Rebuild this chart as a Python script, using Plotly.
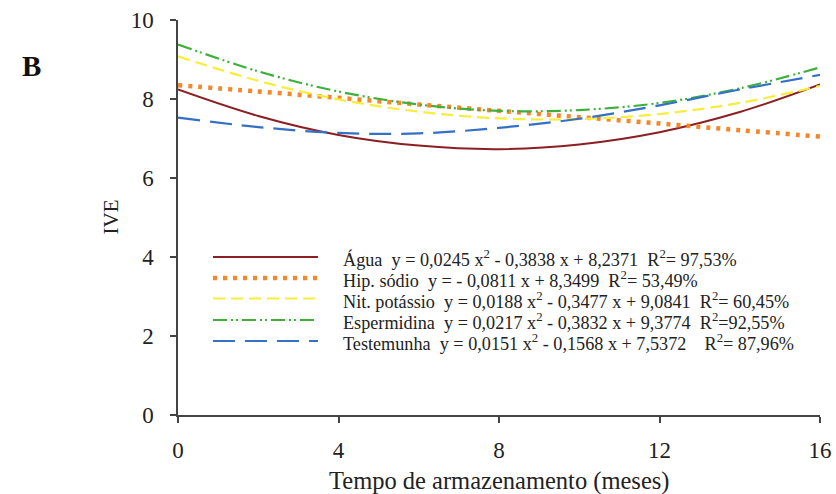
import plotly.graph_objects as go

# Storage time (months) at which each fitted curve is sampled
meses = [0, 2, 4, 6, 8, 10, 12, 14, 16]

# IVE values along each fitted curve
agua = [8.24, 7.57, 7.09, 6.82, 6.73, 6.85, 7.16, 7.67, 8.37]
hip_sodio = [8.35, 8.19, 8.03, 7.86, 7.70, 7.54, 7.38, 7.21, 7.05]
nit_potassio = [9.08, 8.46, 7.99, 7.68, 7.51, 7.49, 7.62, 7.90, 8.33]
espermidina = [9.38, 8.70, 8.19, 7.86, 7.70, 7.72, 7.90, 8.27, 8.80]
testemunha = [7.53, 7.29, 7.14, 7.13, 7.27, 7.50, 7.84, 8.24, 8.61]

series_names = ["Água", "Hip. sódio", "Nit. potássio", "Espermidina", "Testemunha"]
equations = [
    "y = 0,0245 x<sup>2</sup> - 0,3838 x + 8,2371\u00a0\u00a0R<sup>2</sup>= 97,53%",
    "y = - 0,0811 x + 8,3499\u00a0\u00a0R<sup>2</sup>= 53,49%",
    "y = 0,0188 x<sup>2</sup> - 0,3477 x + 9,0841\u00a0\u00a0R<sup>2</sup>= 60,45%",
    "y = 0,0217 x<sup>2</sup> - 0,3832 x + 9,3774\u00a0\u00a0R<sup>2</sup>=92,55%",
    "y = 0,0151 x<sup>2</sup> - 0,1568 x + 7,5372\u00a0\u00a0\u00a0\u00a0R<sup>2</sup>= 87,96%",
]

x_ticks = [0, 4, 8, 12, 16]
y_ticks = [0, 2, 4, 6, 8, 10]

values = [agua, hip_sodio, nit_potassio, espermidina, testemunha]
styles = [
    dict(color="#8B1F24", width=2, dash="solid"),
    dict(color="#F2872B", width=4.5, dash="4px,6px"),
    dict(color="#F7EE3A", width=2.2, dash="12px,6px"),
    dict(color="#3DB03A", width=2.2, dash="14px,4px,2px,3px,2px,4px"),
    dict(color="#3470C6", width=2.2, dash="22px,10px"),
]

SERIF = "Times New Roman, Liberation Serif, serif"

fig = go.Figure()
for name, ys, st in zip(series_names, values, styles):
    fig.add_trace(go.Scatter(
        x=meses, y=ys, mode="lines", name=name,
        line=dict(color=st["color"], width=st["width"], dash=st["dash"],
                  shape="spline", smoothing=1.0),
        showlegend=False, hoverinfo="skip", cliponaxis=False,
    ))

# Hand-built legend: long line samples followed by the regression equations
W, H, L, T = 836, 494, 178, 20
PW, PH = 642, 395
row_px = [257, 278, 298.5, 320, 341]
shapes = []
annotations = []
for name, eq, st, ry in zip(series_names, equations, styles, row_px):
    yp = ((T + PH) - ry) / PH
    shapes.append(dict(
        type="line", xref="paper", yref="paper",
        x0=(213 - L) / PW, x1=(318 - L) / PW, y0=yp, y1=yp,
        line=dict(color=st["color"], width=st["width"], dash=st["dash"]),
    ))
    annotations.append(dict(
        xref="paper", yref="paper", x=(341 - L) / PW, y=yp - 1.5 / PH,
        xanchor="left", yanchor="middle", showarrow=False,
        text=name + "\u00a0\u00a0" + eq,
        font=dict(family=SERIF, size=18.2, color="#222"),
    ))

# Axis titles and panel letter
annotations.append(dict(
    xref="paper", yref="paper", x=(499 - L) / PW, y=(T + PH - 481) / PH,
    xanchor="center", yanchor="middle", showarrow=False,
    text="Tempo de armazenamento (meses)",
    font=dict(family=SERIF, size=24.5, color="#222"),
))
annotations.append(dict(
    xref="paper", yref="paper", x=(110 - L) / PW, y=0.5,
    xanchor="center", yanchor="middle", showarrow=False, textangle=-90,
    text="IVE", font=dict(family=SERIF, size=21, color="#222"),
))
annotations.append(dict(
    xref="paper", yref="paper", x=(31 - L) / PW, y=(T + PH - 66) / PH,
    xanchor="center", yanchor="middle", showarrow=False,
    text="<b>B</b>", font=dict(family=SERIF, size=29, color="#111"),
))

axis_common = dict(
    showgrid=False, zeroline=False, showline=True, linecolor="#444",
    linewidth=1.5, ticks="outside", tickcolor="#444", tickwidth=1.5,
    ticklen=6, automargin=False,
    tickfont=dict(family=SERIF, size=23, color="#222"),
)

fig.update_layout(
    width=W, height=H,
    margin=dict(l=L, r=W - L - PW, t=T, b=H - T - PH, autoexpand=False),
    paper_bgcolor="white", plot_bgcolor="white",
    xaxis=dict(range=[0, 16], tickvals=x_ticks, ticklabelstandoff=8, **axis_common),
    yaxis=dict(range=[0, 10], tickvals=y_ticks, ticklabelstandoff=12, **axis_common),
    shapes=shapes, annotations=annotations,
)

fig.write_html("out.html")
